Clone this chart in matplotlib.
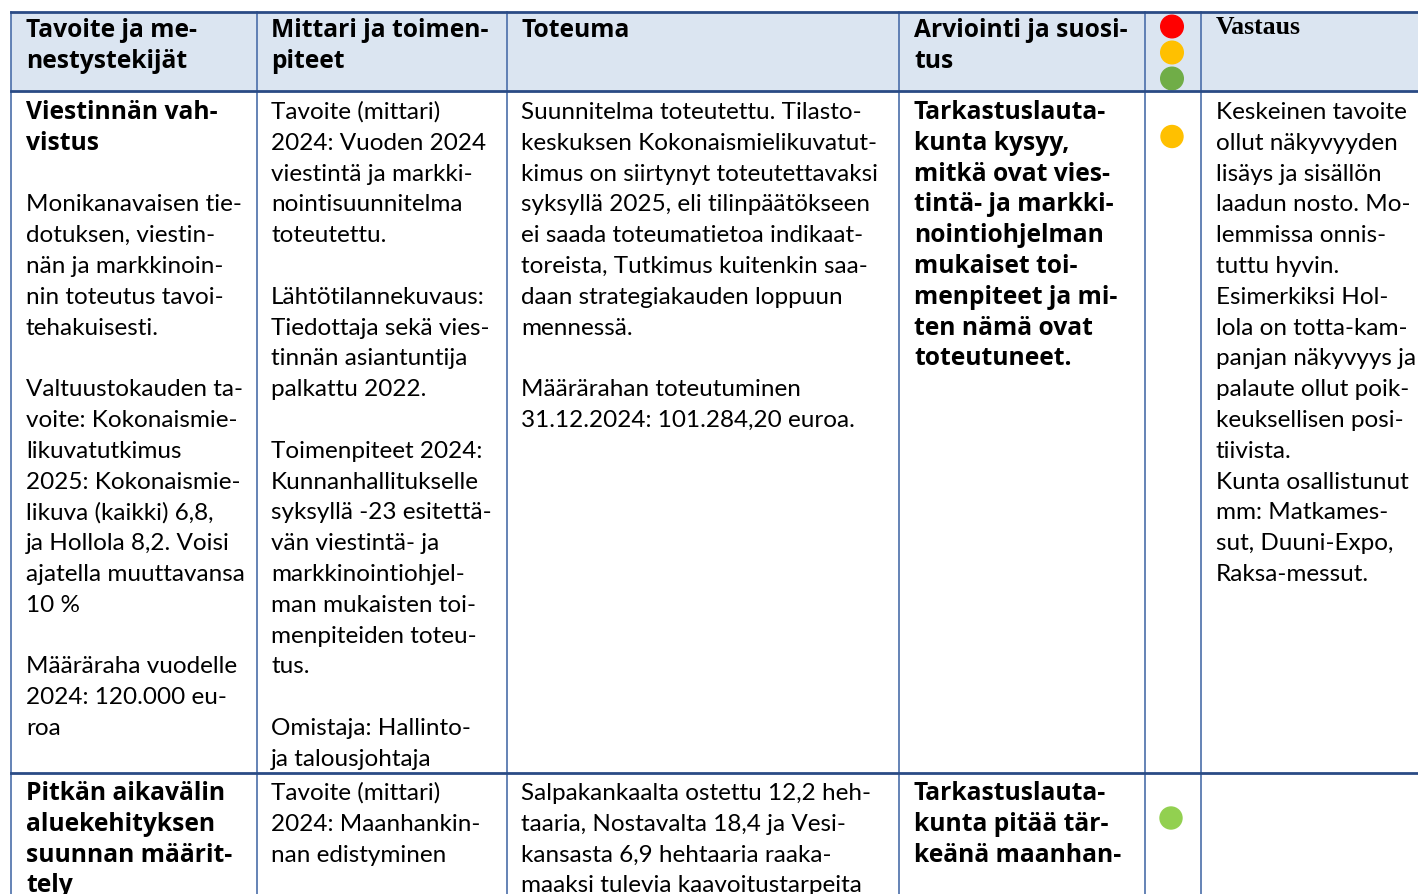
import matplotlib.pyplot as plt
from matplotlib.patches import Rectangle, Circle

# table content
headers = [
    ["Tavoite ja me-", "nestystekijät"],
    ["Mittari ja toimen-", "piteet"],
    ["Toteuma"],
    ["Arviointi ja suosi-", "tus"],
    [],
    ["Vastaus"],
]

row1_tavoite = ["Viestinnän vah-", "vistus", "", "Monikanavaisen tie-", "dotuksen, viestin-",
                "nän ja markkinoin-", "nin toteutus tavoi-", "tehakuisesti.", "",
                "Valtuustokauden ta-", "voite: Kokonaismie-", "likuvatutkimus",
                "2025: Kokonaismie-", "likuva (kaikki) 6,8,", "ja Hollola 8,2. Voisi",
                "ajatella muuttavansa", "10 %", "", "Määräraha vuodelle",
                "2024: 120.000 eu-", "roa"]
row1_tavoite_bold = 2  # first lines in bold
row1_mittari = ["Tavoite (mittari)", "2024: Vuoden 2024", "viestintä ja markki-",
                "nointisuunnitelma", "toteutettu.", "", "Lähtötilannekuvaus:",
                "Tiedottaja sekä vies-", "tinnän asiantuntija", "palkattu 2022.", "",
                "Toimenpiteet 2024:", "Kunnanhallitukselle", "syksyllä -23 esitettä-",
                "vän viestintä- ja", "markkinointiohjel-", "man mukaisten toi-",
                "menpiteiden toteu-", "tus.", "", "Omistaja: Hallinto-", "ja talousjohtaja"]
row1_toteuma = ["Suunnitelma toteutettu. Tilasto-", "keskuksen Kokonaismielikuvatut-",
                "kimus on siirtynyt toteutettavaksi", "syksyllä 2025, eli tilinpäätökseen",
                "ei saada toteumatietoa indikaat-", "toreista, Tutkimus kuitenkin saa-",
                "daan strategiakauden loppuun", "mennessä.", "",
                "Määrärahan toteutuminen", "31.12.2024: 101.284,20 euroa."]
row1_arviointi = ["Tarkastuslauta-", "kunta kysyy,", "mitkä ovat vies-", "tintä- ja markki-",
                  "nointiohjelman", "mukaiset toi-", "menpiteet ja mi-", "ten nämä ovat",
                  "toteutuneet."]
row1_vastaus = ["Keskeinen tavoite", "ollut näkyvyyden", "lisäys ja sisällön",
                "laadun nosto. Mo-", "lemmissa onnis-", "tuttu hyvin.", "Esimerkiksi Hol-",
                "lola on totta-kam-", "panjan näkyvyys ja", "palaute ollut poik-",
                "keuksellisen posi-", "tiivista.", "Kunta osallistunut", "mm: Matkames-",
                "sut, Duuni-Expo,", "Raksa-messut."]

row2_tavoite = ["Pitkän aikavälin", "aluekehityksen", "suunnan määrit-", "tely"]
row2_mittari = ["Tavoite (mittari)", "2024: Maanhankin-", "nan edistyminen"]
row2_toteuma = ["Salpakankaalta ostettu 12,2 heh-", "taaria, Nostavalta 18,4 ja Vesi-",
                "kansasta 6,9 hehtaaria raaka-", "maaksi tulevia kaavoitustarpeita"]
row2_arviointi = ["Tarkastuslauta-", "kunta pitää tär-", "keänä maanhan-"]
row2_vastaus = []

legend_lights = ["#ff0000", "#ffc000", "#70ad47"]
row_lights = ["#ffc000", "#92d050"]

# layout (pixels)
W, H = 1418, 894
col_edges = [11, 257, 507, 899, 1145, 1201, 1418]
text_x = [26, 271, 521, 914, None, 1216]
row_edges = [12, 91, 773]
line_h = 30.8
fs = 17.5
BOLD_FONT = 'Open Sans'
BOLD_FS = 17.7

fig = plt.figure(figsize=(W / 100, H / 100), dpi=100)
ax = fig.add_axes([0, 0, 1, 1])
ax.set_xlim(0, W)
ax.set_ylim(H, 0)
ax.axis('off')

ax.add_patch(Rectangle((col_edges[0], row_edges[0]), W - col_edges[0],
                       row_edges[1] - row_edges[0], color='#dbe5f1', zorder=0))


def put_lines(x, y0, lines, bold_n=0, all_bold=False):
    for i, s in enumerate(lines):
        if all_bold or i < bold_n:
            ax.text(x, y0 + i * line_h, s, fontsize=BOLD_FS, fontweight='bold',
                    family=BOLD_FONT, va='baseline', ha='left', color='black')
        else:
            ax.text(x, y0 + i * line_h, s, fontsize=fs, family='Lato',
                    va='baseline', ha='left', color='black')


# header
for c, lines in enumerate(headers):
    if not lines:
        continue
    if c == 5:
        ax.text(text_x[c], 34, lines[0], fontsize=18.5, fontweight='bold',
                family='Liberation Serif', va='baseline', ha='left', color='black')
    else:
        put_lines(text_x[c], 37, lines, all_bold=True)

for i, col in enumerate(legend_lights):
    ax.add_patch(Circle((1172, 26.5 + i * 26), 11.3, color=col, zorder=3))

# row 1
y1 = 119
put_lines(text_x[0], y1, row1_tavoite, bold_n=row1_tavoite_bold)
put_lines(text_x[1], y1, row1_mittari)
put_lines(text_x[2], y1, row1_toteuma)
put_lines(text_x[3], y1, row1_arviointi, all_bold=True)
put_lines(text_x[5], y1, row1_vastaus)
ax.add_patch(Circle((1172, 136.5), 11, color=row_lights[0], zorder=3))

# row 2 (runs past the bottom edge, as in the source page)
y2 = 800
put_lines(text_x[0], y2, row2_tavoite, all_bold=True)
put_lines(text_x[1], y2, row2_mittari)
put_lines(text_x[2], y2, row2_toteuma)
put_lines(text_x[3], y2, row2_arviointi, all_bold=True)
put_lines(text_x[5], y2, row2_vastaus)
ax.add_patch(Circle((1171, 818), 11, color=row_lights[1], zorder=3))

# grid lines
for x in col_edges[:-1]:
    ax.plot([x, x], [row_edges[0], H], color='#4a6ea9', lw=1.2, zorder=4)
for y in row_edges:
    ax.plot([col_edges[0], W], [y, y], color='#2a4b85', lw=2.0, zorder=5)

fig.savefig('out.png', dpi=100)
